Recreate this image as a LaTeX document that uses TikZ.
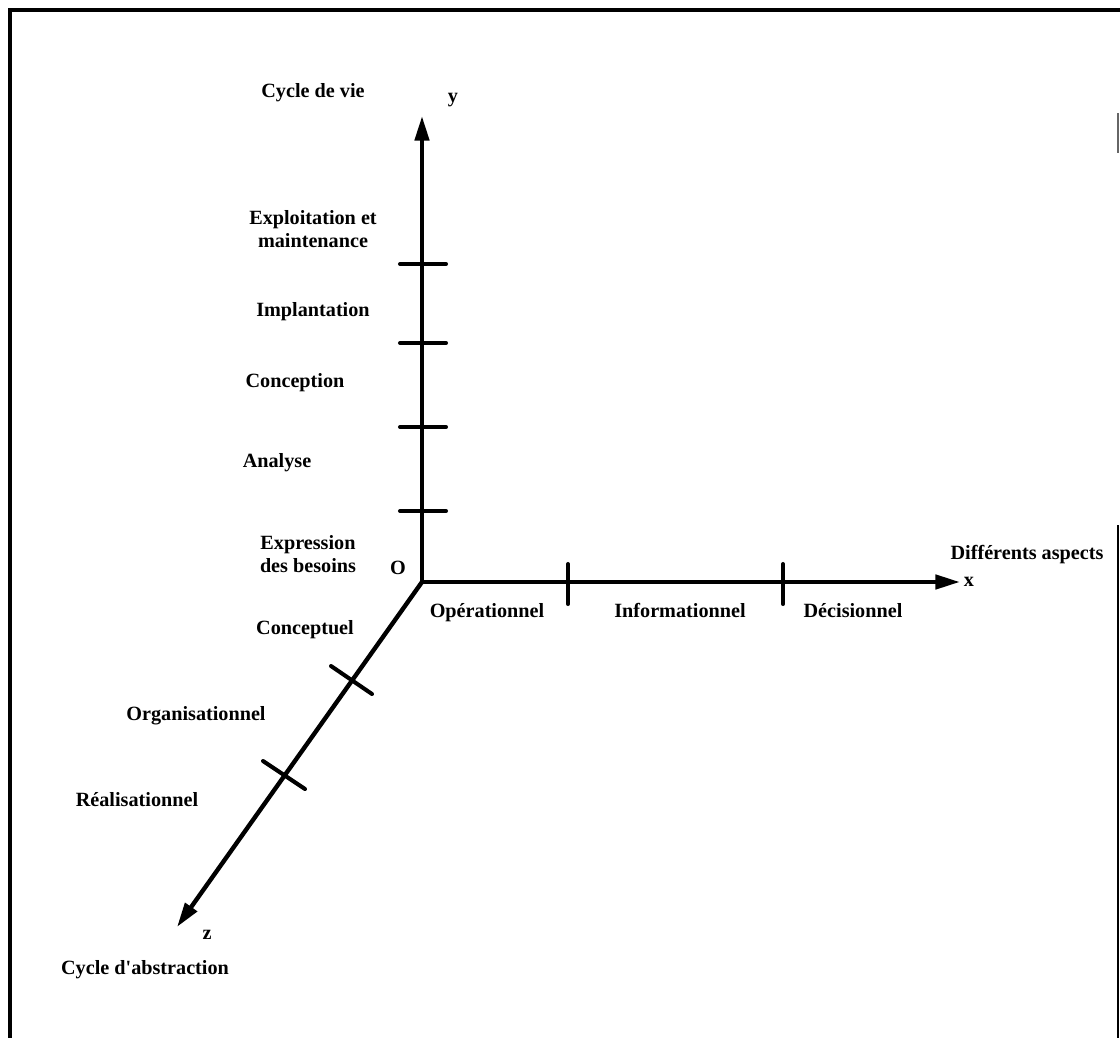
\documentclass[tikz,border=0pt]{standalone}
\usepackage{fontspec}
\setmainfont{Liberation Serif}
\usetikzlibrary{arrows.meta,calc}
\begin{document}
\begin{tikzpicture}[x=0.02cm,y=-0.02cm,
  axis/.style={line width=2.5pt,-{Triangle[length=14pt,width=8pt]}},
  tick/.style={line width=2.3pt,line cap=round},
  lbl/.style={font=\fontsize{11.5}{13}\selectfont\bfseries,inner sep=0pt,align=center},
  frame/.style={line width=2.4pt}]
\useasboundingbox (0,0) rectangle (1120,1038);
% frame
\draw[frame] (10,1038) -- (10,10) -- (1120,10);
\draw[line width=1pt,black!60] (1118,113) -- (1118,153);
\draw[line width=1.2pt] (1118,525) -- (1118,1038);

% axes
\coordinate (O) at (422,582);
\coordinate (yend) at (422,116);
\coordinate (xend) at (960,582);
\coordinate (zend) at (177,927);
\draw[axis] (O) -- (yend);
\draw[axis] (O) -- (xend);
\draw[axis] (O) -- (zend);

% ticks on y
\foreach \t in {264,343,427,511}
  \draw[tick] (400,\t) -- (446,\t);
% ticks on x
\foreach \t in {568,783}
  \draw[tick] (\t,564) -- (\t,604);
% ticks on z
\draw[tick] (331,666) -- (372,694);
\draw[tick] (263,761) -- (305,789);

% labels
\node[lbl] (ycyc) at (313,93) {Cycle de vie};
\node[lbl] (ylab) at (453,100) {y};
\node[lbl] (exp) at (313,229) {Exploitation et\\maintenance};
\node[lbl] (imp) at (313,312) {Implantation};
\node[lbl] (con) at (295,383) {Conception};
\node[lbl] (ana) at (277,463) {Analyse};
\node[lbl] (bes) at (308,554) {Expression\\des besoins};
\node[lbl] (olab) at (398,568) {O};
\node[lbl] (asp) at (1027,555) {Différents aspects};
\node[lbl] (xlab) at (969,582) {x};
\node[lbl,anchor=base] (ope) at (487,617) {Opérationnel};
\node[lbl,anchor=base] (inf) at (680,617) {Informationnel};
\node[lbl,anchor=base] (dec) at (853,617) {Décisionnel};
\node[lbl] (cpt) at (305,630) {Conceptuel};
\node[lbl] (org) at (196,716) {Organisationnel};
\node[lbl] (rea) at (137,800) {Réalisationnel};
\node[lbl] (zlab) at (207,935) {z};
\node[lbl] (abs) at (145,970) {Cycle d\textquotesingle abstraction};
\end{tikzpicture}
\end{document}
